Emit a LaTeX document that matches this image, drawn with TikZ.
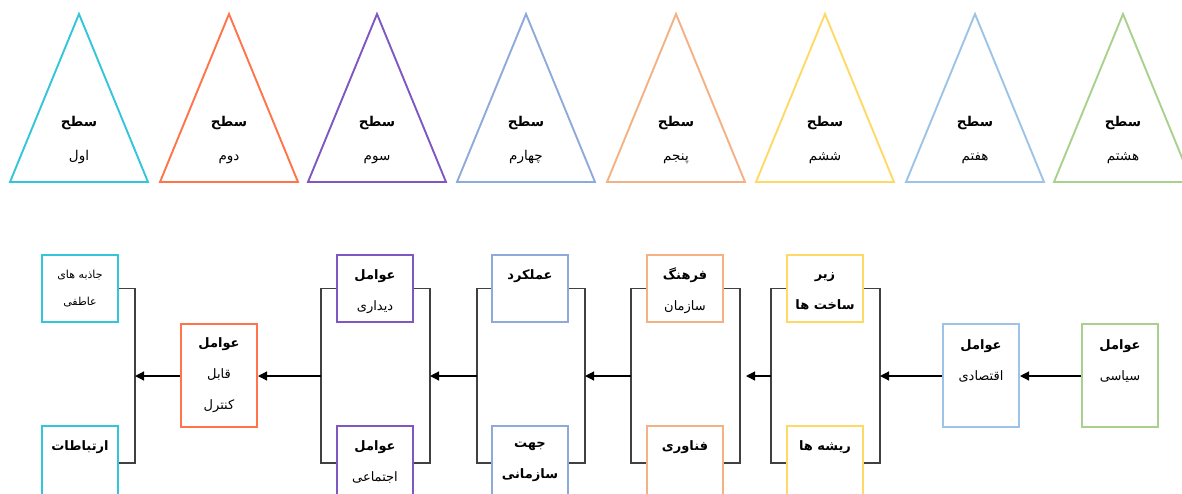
\documentclass[tikz,border=0pt]{standalone}
\usepackage{fontspec}
\usetikzlibrary{arrows.meta}
\TeXXeTstate=1
\newfontfamily\arabicfont[Script=Arabic]{DejaVu Sans}
\newcommand\ptext[1]{\beginR #1\endR}

\definecolor{lvA}{HTML}{33C6DA}
\definecolor{lvB}{HTML}{FF7448}
\definecolor{lvC}{HTML}{7E57C2}
\definecolor{lvD}{HTML}{8EAADB}
\definecolor{lvE}{HTML}{F4B183}
\definecolor{lvF}{HTML}{FFD966}
\definecolor{lvG}{HTML}{9DC3E6}
\definecolor{lvH}{HTML}{A9D18E}

\tikzset{
  tri/.style={line width=1.9pt, line join=miter},
  box/.style={draw=#1, line width=2pt, minimum width=76pt, minimum height=67pt, inner sep=0pt},
  tallbox/.style={minimum height=103pt},
  lowbox/.style={minimum height=74pt},
  lbl/.style={font=\arabicfont\fontsize{13}{31}\selectfont, align=center, inner sep=0pt},
  small/.style={font=\arabicfont\fontsize{11}{27}\selectfont},
  trilbl/.style={font=\arabicfont\fontsize{13.5}{34}\selectfont, align=center, inner sep=0pt},
  brk/.style={draw=black!75, line width=1.2pt},
  arr/.style={draw=black, line width=1.2pt, -{Triangle[length=9pt,width=9pt]}},
}

\begin{document}
\begin{tikzpicture}[x=1pt, y=-1pt]
\useasboundingbox (0,0) rectangle (1182,493);
\clip (0,0) rectangle (1182,493);

% --- the eight levels ---
\foreach \i/\ax/\col/\word in {1/79/lvA/اول, 2/229/lvB/دوم, 3/377/lvC/سوم, 4/526/lvD/چهارم,
                               5/676/lvE/پنجم, 6/825/lvF/ششم, 7/975/lvG/هفتم, 8/1123/lvH/هشتم}{
  \draw[tri, draw=\col] (\ax,14) -- (\ax-69,182) -- (\ax+69,182) -- cycle;
  \node[trilbl] (lev\i) at (\ax,140) {\textbf{\ptext{سطح}}\\\ptext{\word}};
}

% --- factor boxes ---
\node[box=lvA] (a1) at (80,288.5) {};
\node[box=lvA, lowbox] (a2) at (80,463) {};
\node[box=lvB, tallbox] (b) at (219,375.5) {};
\node[box=lvC] (c1) at (375,288.5) {};
\node[box=lvC, lowbox] (c2) at (375,463) {};
\node[box=lvD] (d1) at (530,288.5) {};
\node[box=lvD, lowbox] (d2) at (530,463) {};
\node[box=lvE] (e1) at (685,288.5) {};
\node[box=lvE, lowbox] (e2) at (685,463) {};
\node[box=lvF] (f1) at (825,288.5) {};
\node[box=lvF, lowbox] (f2) at (825,463) {};
\node[box=lvG, tallbox] (g) at (981,375.5) {};
\node[box=lvH, tallbox] (h) at (1120,375.5) {};

% --- box texts ---
\node[lbl, small] (a1-t) at (a1.center) {\ptext{جاذبه های}\\\ptext{عاطفی}};
\node[lbl] (a2-t) at ([yshift=-22pt]a2.north) {\textbf{\ptext{ارتباطات}}};
\node[lbl] (b-t) at (b.center) {\textbf{\ptext{عوامل}}\\\ptext{قابل}\\\ptext{کنترل}};
\node[lbl] (c1-t) at ([yshift=-38pt]c1.north) {\textbf{\ptext{عوامل}}\\\ptext{دیداری}};
\node[lbl] (c2-t) at ([yshift=-37pt]c2.north) {\textbf{\ptext{عوامل}}\\\ptext{اجتماعی}};
\node[lbl] (d1-t) at ([yshift=-22pt]d1.north) {\textbf{\ptext{عملکرد}}};
\node[lbl] (d2-t) at ([yshift=-37pt]d2.north) {\textbf{\ptext{جهت}}\\\textbf{\ptext{سازمانی}}};
\node[lbl] (e1-t) at ([yshift=-37pt]e1.north) {\textbf{\ptext{فرهنگ}}\\\ptext{سازمان}};
\node[lbl] (e2-t) at ([yshift=-22pt]e2.north) {\textbf{\ptext{فناوری}}};
\node[lbl] (f1-t) at ([yshift=-37pt]f1.north) {\textbf{\ptext{زیر}}\\\textbf{\ptext{ساخت ها}}};
\node[lbl] (f2-t) at ([yshift=-22pt]f2.north) {\textbf{\ptext{ریشه ها}}};
\node[lbl] (g-t) at ([yshift=-38pt]g.north) {\textbf{\ptext{عوامل}}\\\ptext{اقتصادی}};
\node[lbl] (h-t) at ([yshift=-38pt]h.north) {\textbf{\ptext{عوامل}}\\\ptext{سیاسی}};

% --- bracket spines (mid points) ---
\coordinate (aR) at (135,376);
\coordinate (cL) at (321,376);
\coordinate (cR) at (430,376);
\coordinate (dL) at (477,376);
\coordinate (dR) at (585,376);
\coordinate (eL) at (631,376);
\coordinate (eR) at (740,376);
\coordinate (fL) at (771,376);
\coordinate (fR) at (880,376);

% --- brackets joining each pair ---
\draw[brk] (a1.east) -| (aR) |- (a2.east);
\draw[brk] (c1.west) -| (cL) |- (c2.west);
\draw[brk] (c1.east) -| (cR) |- (c2.east);
\draw[brk] (d1.west) -| (dL) |- (d2.west);
\draw[brk] (d1.east) -| (dR) |- (d2.east);
\draw[brk] (e1.west) -| (eL) |- (e2.west);
\draw[brk] (e1.east) -| (eR) |- (e2.east);
\draw[brk] (f1.west) -| (fL) |- (f2.west);
\draw[brk] (f1.east) -| (fR) |- (f2.east);

% --- flow from right to left ---
\draw[arr] (h.west |- 0,376) -- (g.east |- 0,376);
\draw[arr] (g.west |- 0,376) -- (fR);
\draw[arr, shorten >=6pt] (fL) -- (eR);
\draw[arr] (eL) -- (dR);
\draw[arr] (dL) -- (cR);
\draw[arr] (cL) -- (b.east |- 0,376);
\draw[arr] (b.west |- 0,376) -- (aR);
\end{tikzpicture}
\end{document}
